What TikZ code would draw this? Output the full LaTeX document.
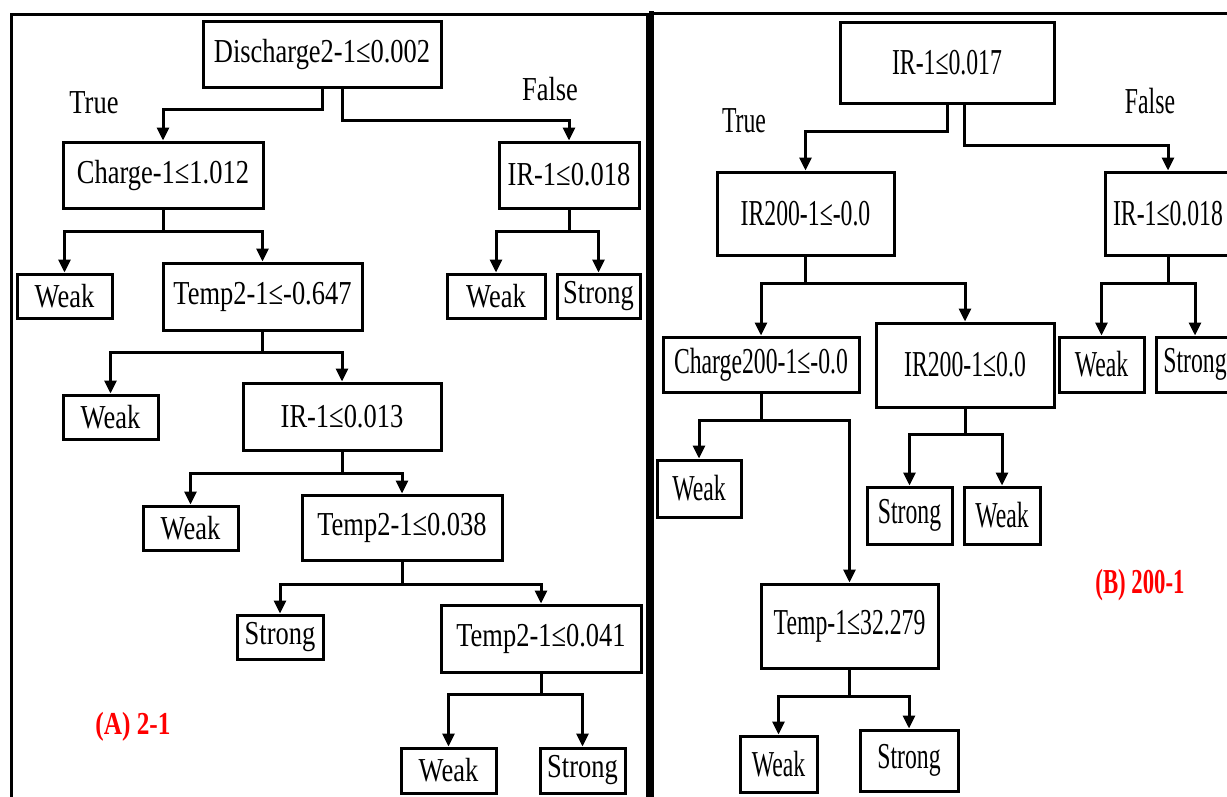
\documentclass[tikz,border=0pt]{standalone}
\usepackage{fontspec}
\newfontfamily\lfont[FakeStretch=0.79]{Liberation Serif}
\newfontfamily\rfont[FakeStretch=0.65]{Liberation Serif}
\usetikzlibrary{arrows.meta}
\begin{document}
\begin{tikzpicture}[x=1pt,y=-1pt,
  lbox/.style={draw, line width=3pt, inner sep=0pt, font=\lfont\fontsize{33.5}{37}\selectfont},
  rbox/.style={draw, line width=3pt, inner sep=0pt, font=\rfont\fontsize{36.5}{40}\selectfont},
  ltext/.style={inner sep=0pt, font=\lfont\fontsize{33.5}{37}\selectfont},
  rtext/.style={inner sep=0pt, font=\rfont\fontsize{36.5}{40}\selectfont},
  lred/.style={inner sep=0pt, text=red, font=\lfont\bfseries\fontsize{32}{36}\selectfont},
  rred/.style={inner sep=0pt, text=red, font=\rfont\bfseries\fontsize{35}{38}\selectfont},
  arr/.style={line width=3pt, -{Triangle[length=13pt,width=12pt]}},
  panel/.style={line width=3pt}
]
\useasboundingbox (0,0) rectangle (1227,796);
% panels
\draw[panel] (11,820) -- (11,14) -- (647,14) -- (647,820);
\draw[line width=5pt] (651,11) -- (651,820);
\draw[panel] (651,13) -- (1240,13);

% ---------- left tree ----------
\node[lbox, minimum width=238, minimum height=66] (A0) at (322,54) {Discharge2-1≤0.002};
\node[lbox, minimum width=200, minimum height=66] (A1) at (163,175) {Charge-1≤1.012};
\node[lbox, minimum width=140, minimum height=66] (A2) at (569,175) {IR-1≤0.018};
\node[lbox, minimum width=95, minimum height=44] (A3) at (64.5,296) {Weak};
\node[lbox, minimum width=199, minimum height=67] (A4) at (262.5,296.5) {Temp2-1≤-0.647};
\node[lbox, minimum width=98, minimum height=44] (A5) at (496,296) {Weak};
\node[lbox, minimum width=83, minimum height=44] (A6) at (598.5,296) {Strong};
\node[lbox, minimum width=95, minimum height=44] (A7) at (110.5,417) {Weak};
\node[lbox, minimum width=198, minimum height=67] (A8) at (342,416.5) {IR-1≤0.013};
\node[lbox, minimum width=95, minimum height=44] (A9) at (190.5,528) {Weak};
\node[lbox, minimum width=200, minimum height=65] (A10) at (402,527.5) {Temp2-1≤0.038};
\node[lbox, minimum width=86, minimum height=44] (A11) at (280,637) {Strong};
\node[lbox, minimum width=200, minimum height=67] (A12) at (541,638.5) {Temp2-1≤0.041};
\node[lbox, minimum width=95, minimum height=45] (A13) at (448.5,770.5) {Weak};
\node[lbox, minimum width=85, minimum height=45] (A14) at (582.5,770.5) {Strong};

\node[ltext] (tA) at (94,102.5) {True};
\node[ltext] (fA) at (550,89.5) {False};
\node[lred] (labA) at (133,727) {(A) 2-1};

\draw[arr] (A0.south) -- ++(0,21) -| (A1.north);
\draw[arr] ([xshift=20pt]A0.south) -- ++(0,32) -| (A2.north);
\draw[arr] (A1.south) -- ++(0,22) -| (A3.north);
\draw[arr] (A1.south) -- ++(0,22) -| (A4.north);
\draw[arr] (A2.south) -- ++(0,22) -| (A5.north);
\draw[arr] (A2.south) -- ++(0,22) -| (A6.north);
\draw[arr] (A4.south) -- ++(0,21) -| (A7.north);
\draw[arr] (A4.south) -- ++(0,21) -| (A8.north);
\draw[arr] (A8.south) -- ++(0,22) -| (A9.north);
\draw[arr] (A8.south) -- ++(0,22) -| (A10.north);
\draw[arr] (A10.south) -- ++(0,23) -| (A11.north);
\draw[arr] (A10.south) -- ++(0,23) -| (A12.north);
\draw[arr] (A12.south) -- ++(0,21) -| (A13.north);
\draw[arr] (A12.south) -- ++(0,21) -| (A14.north);

% ---------- right tree ----------
\node[rbox, minimum width=214, minimum height=81] (B0) at (947,62.5) {IR-1≤0.017};
\node[rbox, minimum width=177, minimum height=83] (B1) at (805.5,213.5) {IR200-1≤-0.0};
\node[rbox, minimum width=126, minimum height=83] (B2) at (1168,213.5) {IR-1≤0.018};
\node[rbox, minimum width=196, minimum height=55] (B3) at (761,364.5) {Charge200-1≤-0.0};
\node[rbox, minimum width=178, minimum height=84] (B4) at (965,365) {IR200-1≤0.0};
\node[rbox, minimum width=85, minimum height=55] (B5) at (1101.5,364.5) {Weak};
\node[rbox, minimum width=78, minimum height=55] (B6) at (1195,364.5) {Strong};
\node[rbox, minimum width=84, minimum height=57] (B7) at (699,488.5) {Weak};
\node[rbox, minimum width=177, minimum height=84] (B8) at (849.5,626) {Temp-1≤32.279};
\node[rbox, minimum width=85, minimum height=57] (B9) at (909.5,515.5) {Strong};
\node[rbox, minimum width=76, minimum height=57] (B10) at (1002,515.5) {Weak};
\node[rbox, minimum width=77, minimum height=56] (B11) at (778.5,764) {Weak};
\node[rbox, minimum width=98, minimum height=61] (B12) at (909,760.5) {Strong};

\node[rtext] (tB) at (744,121) {True};
\node[rtext] (fB) at (1150,101.5) {False};
\node[rred] (labB) at (1140,585) {(B) 200-1};

\draw[arr] (B0.south) -- ++(0,27) -| (B1.north);
\draw[arr] ([xshift=17pt]B0.south) -- ++(0,41) -| (B2.north);
\draw[arr] (B1.south) -- ++(0,27) -| (B3.north);
\draw[arr] (B1.south) -- ++(0,27) -| (B4.north);
\draw[arr] (B2.south) -- ++(0,27) -| (B5.north);
\draw[arr] (B2.south) -- ++(0,27) -| (B6.north);
\draw[arr] (B3.south) -- ++(0,27) -| (B7.north);
\draw[arr] (B3.south) -- ++(0,27) -| (B8.north);
\draw[arr] (B4.south) -- ++(0,26) -| (B9.north);
\draw[arr] (B4.south) -- ++(0,26) -| (B10.north);
\draw[arr] (B8.south) -- ++(0,27) -| (B11.north);
\draw[arr] (B8.south) -- ++(0,27) -| (B12.north);
\end{tikzpicture}
\end{document}
